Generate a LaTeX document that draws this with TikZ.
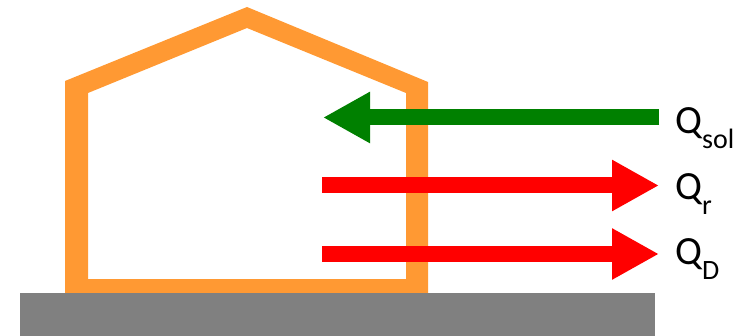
\documentclass[tikz,border=0pt]{standalone}
\usepackage{fontspec}
\setmainfont{Carlito}
\usetikzlibrary{arrows.meta}
\definecolor{houseorange}{RGB}{255,153,51}
\definecolor{arrowgreen}{RGB}{0,128,0}
\definecolor{arrowred}{RGB}{255,0,0}
\definecolor{groundgray}{RGB}{128,128,128}
\tikzset{
  flow/.style={line width=16pt, -{Triangle[length=47pt,width=48pt]}},
  lbl/.style={anchor=base west, inner sep=0pt, font=\fontsize{40}{40}\selectfont},
}
\newcommand{\qsub}[1]{Q\raisebox{-14.5pt}{\fontsize{28}{28}\selectfont #1}}
\begin{document}
\begin{tikzpicture}[x=1pt,y=-1pt]
\useasboundingbox (0,0) rectangle (751,336);
% house
\fill[houseorange,even odd rule]
  (65,300) -- (65,81) -- (247,7) -- (428,82) -- (428,300) -- cycle
  (88,279) -- (88,93) -- (247,28) -- (406,93) -- (406,279) -- cycle;
% ground
\fill[groundgray] (20,293) rectangle (655,336);
% coordinates
\coordinate (gs) at (659,117.5);
\coordinate (ge) at (323,117.5);
\coordinate (r1s) at (322,185.5);
\coordinate (r1e) at (659,185.5);
\coordinate (r2s) at (322,254);
\coordinate (r2e) at (659,254);
% arrows
\draw[flow,arrowgreen] (gs) -- (ge);
\draw[flow,arrowred] (r1s) -- (r1e);
\draw[flow,arrowred] (r2s) -- (r2e);
% labels
\node[lbl] (qsol) at (675,134) {\qsub{sol}};
\node[lbl] (qr) at (675,200) {\qsub{r}};
\node[lbl] (qd) at (675,265) {\qsub{D}};
\end{tikzpicture}
\end{document}
